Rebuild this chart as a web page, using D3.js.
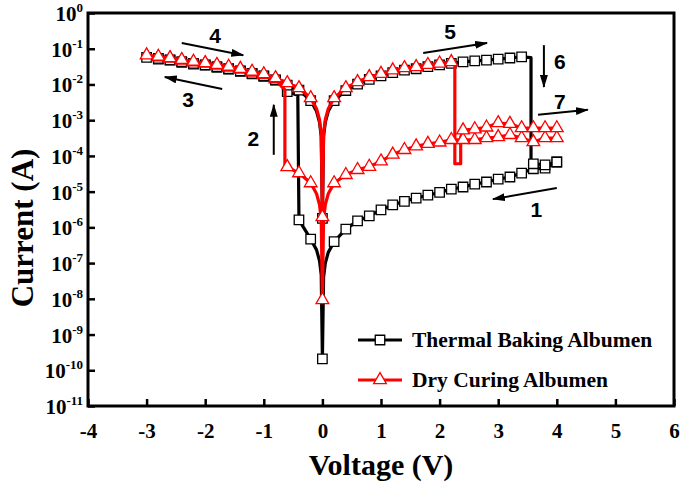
<!DOCTYPE html>
<html>
<head>
<meta charset="utf-8">
<script src="https://cdn.jsdelivr.net/npm/d3@7"></script>
<style>
  body { margin: 0; background: #fff; }
  text { font-family: "Liberation Serif", "Times New Roman", serif; font-weight: bold; fill: #000; }
  .num { font-family: "Liberation Sans", Arial, sans-serif; }
</style>
</head>
<body>
<svg id="chart" width="685" height="484"></svg>
<script>
const W = 685, H = 484;
const m = {left: 88, right: 11, top: 13, bottom: 78};

// values are [voltage V, log10 of current A], in the order of the sweep
// Thermal Baking Albumen
const tbSweep1 = [[4.0,-4.17],[3.8,-4.34],[3.6,-4.36],[3.4,-4.48],[3.2,-4.59],[3.0,-4.65],[2.8,-4.73],[2.6,-4.79],
  [2.4,-4.87],[2.2,-4.93],[2.0,-5.02],[1.8,-5.1],[1.6,-5.18],[1.4,-5.27],[1.2,-5.37],[1.0,-5.51],[0.8,-5.68],
  [0.6,-5.82],[0.4,-6.05],[0.2,-6.4],[0.1,-6.7],[0.05,-7.0],[0.02,-7.4],[0,-9.68]];
const tbSweep2 = [[-0.02,-7.33],[-0.05,-6.93],[-0.1,-6.63],[-0.2,-6.33],[-0.4,-5.79],[-0.42,-2.3],[-0.6,-2.2],
  [-0.8,-1.88],[-1.0,-1.77],[-1.2,-1.7],[-1.4,-1.63],[-1.6,-1.57],[-1.8,-1.52],[-2.0,-1.46],[-2.2,-1.43],
  [-2.4,-1.38],[-2.6,-1.32],[-2.8,-1.29],[-3.0,-1.24]];
const tbSweep3 = [[-2.8,-1.27],[-2.6,-1.31],[-2.4,-1.36],[-2.2,-1.41],[-2.0,-1.45],[-1.8,-1.5],[-1.6,-1.56],
  [-1.4,-1.62],[-1.2,-1.69],[-1.0,-1.76],[-0.8,-1.87],[-0.6,-2.02],[-0.4,-2.16],[-0.2,-2.45],[-0.1,-2.75],
  [-0.05,-3.05],[-0.02,-3.45],[0,-5.75]];
const tbSweep4 = [[0.02,-3.45],[0.05,-3.05],[0.1,-2.75],[0.2,-2.45],[0.4,-2.17],[0.6,-1.99],[0.8,-1.86],[1.0,-1.76],
  [1.2,-1.67],[1.4,-1.6],[1.6,-1.56],[1.8,-1.5],[2.0,-1.45],[2.2,-1.41],[2.4,-1.37],[2.6,-1.34],[2.8,-1.32],
  [3.0,-1.29],[3.2,-1.26],[3.4,-1.23],[3.56,-1.25],[3.56,-4.2],[3.6,-4.22],[3.8,-4.25],[4.0,-4.17]];

// Dry Curing Albumen
const dcSweep1 = [[4.0,-3.5],[3.8,-3.5],[3.6,-3.61],[3.4,-3.5],[3.2,-3.41],[3.0,-3.47],[2.8,-3.5],[2.6,-3.55],
  [2.4,-3.55],[2.2,-3.55],[2.0,-3.62],[1.8,-3.66],[1.6,-3.73],[1.4,-3.83],[1.2,-3.96],[1.0,-4.15],[0.8,-4.3],
  [0.6,-4.39],[0.4,-4.53],[0.2,-4.76],[0.1,-5.06],[0.05,-5.36],[0.02,-5.76],[0,-8.03]];
const dcSweep2 = [[-0.02,-5.76],[-0.05,-5.36],[-0.1,-5.06],[-0.2,-4.76],[-0.4,-4.48],[-0.6,-4.31],[-0.64,-4.31],
  [-0.64,-2.15],[-0.8,-1.85],[-1.0,-1.73],[-1.2,-1.66],[-1.4,-1.58],[-1.6,-1.52],[-1.8,-1.47],[-2.0,-1.41],
  [-2.2,-1.38],[-2.4,-1.33],[-2.6,-1.27],[-2.8,-1.24],[-3.0,-1.18]];
const dcSweep3 = [[-2.8,-1.22],[-2.6,-1.26],[-2.4,-1.31],[-2.2,-1.36],[-2.0,-1.4],[-1.8,-1.45],[-1.6,-1.5],
  [-1.4,-1.56],[-1.2,-1.64],[-1.0,-1.71],[-0.8,-1.82],[-0.6,-1.96],[-0.4,-2.1],[-0.2,-2.38],[-0.1,-2.68],
  [-0.05,-2.98],[-0.02,-3.38],[0,-5.71]];
const dcSweep4 = [[0.02,-3.38],[0.05,-2.98],[0.1,-2.68],[0.2,-2.38],[0.4,-2.1],[0.6,-1.93],[0.8,-1.79],[1.0,-1.7],
  [1.2,-1.6],[1.4,-1.54],[1.6,-1.51],[1.8,-1.45],[2.0,-1.41],[2.2,-1.37],[2.26,-1.37],[2.26,-4.22],[2.36,-4.22],
  [2.36,-3.47],[2.4,-3.28],[2.6,-3.25],[2.8,-3.2],[3.0,-3.08],[3.2,-3.1],[3.4,-3.22],[3.6,-3.22],[3.8,-3.22],[4.0,-3.22]];

const xTicks = [-4, -3, -2, -1, 0, 1, 2, 3, 4, 5, 6];
const yExps = [0, -1, -2, -3, -4, -5, -6, -7, -8, -9, -10, -11];

// sweep arrows: tail, head and label in [V, log10 I]
const arrows = [
  {n: "1", from: [4.0, -4.9],   to: [2.91, -5.21], at: [3.65, -5.51]},
  {n: "2", from: [-0.83, -3.97], to: [-0.83, -2.57], at: [-1.18, -3.5]},
  {n: "3", from: [-1.71, -2.13], to: [-2.69, -1.79], at: [-2.29, -2.43]},
  {n: "4", from: [-2.40, -0.84], to: [-1.35, -1.18], at: [-1.83, -0.62]},
  {n: "5", from: [1.72, -1.12],  to: [2.81, -0.84],  at: [2.18, -0.53]},
  {n: "6", from: [3.78, -0.9],   to: [3.78, -2.07],  at: [4.05, -1.37]},
  {n: "7", from: [3.68, -2.85],  to: [4.53, -2.71],  at: [4.05, -2.49]}
];

const series = [
  {name: "Thermal Baking Albumen", color: "#000", shape: "square",
   pts: tbSweep1.concat(tbSweep2, tbSweep3, tbSweep4)},
  {name: "Dry Curing Albumen", color: "#f00", shape: "triangle",
   pts: dcSweep1.concat(dcSweep2, dcSweep3, dcSweep4)}
];

const svg = d3.select("#chart");
const x = d3.scaleLinear().domain([-4, 6]).range([m.left, W - m.right]);
const y = d3.scaleLog().domain([1e-11, 1]).range([H - m.bottom, m.top]);
const yv = e => y(Math.pow(10, e));

svg.append("defs").append("marker")
  .attr("id", "ah").attr("viewBox", "0 0 13 8")
  .attr("refX", 12).attr("refY", 4)
  .attr("markerWidth", 13).attr("markerHeight", 8)
  .attr("markerUnits", "userSpaceOnUse").attr("orient", "auto")
  .append("path").attr("d", "M0,0L13,4L0,8z").attr("fill", "#000");

// axes, ticks pointing inward
const gx = svg.append("g").attr("transform", `translate(0,${H - m.bottom})`);
gx.call(d3.axisBottom(x).tickValues(d3.range(-3.5, 6, 1)).tickSize(-4).tickFormat(""));
gx.call(d3.axisBottom(x).tickValues(xTicks).tickSize(-7).tickPadding(17).tickFormat(d => String(d)));
gx.selectAll("text").attr("font-size", 21).attr("font-family", "Liberation Serif").attr("font-weight", "bold");

const minorY = [];
yExps.forEach(e => { if (e < 0) d3.range(2, 10).forEach(k => minorY.push(k * Math.pow(10, e))); });
const gy = svg.append("g").attr("transform", `translate(${m.left},0)`);
gy.call(d3.axisLeft(y).tickValues(minorY).tickSize(-4).tickFormat(""));
gy.call(d3.axisLeft(y).tickValues(yExps.map(e => Math.pow(10, e))).tickSize(-7).tickFormat(""));

svg.selectAll(".domain").remove();
svg.selectAll(".tick line").attr("stroke", "#000").attr("stroke-width", 2.5);

const ylab = svg.append("g").selectAll("text").data(yExps).enter().append("text")
  .attr("x", m.left - 5).attr("y", e => yv(e) + 8)
  .attr("text-anchor", "end").attr("font-size", 21);
ylab.append("tspan").text("10");
ylab.append("tspan").attr("dy", -9).attr("font-size", 13).text(e => String(e));

svg.append("rect")
  .attr("x", m.left).attr("y", m.top)
  .attr("width", W - m.left - m.right).attr("height", H - m.top - m.bottom)
  .attr("fill", "none").attr("stroke", "#000").attr("stroke-width", 3);

// axis titles
svg.append("text").attr("x", (m.left + W - m.right) / 2).attr("y", 475)
  .attr("text-anchor", "middle").attr("font-size", 30).text("Voltage (V)");
svg.append("text").attr("transform", "translate(33,228) rotate(-90)")
  .attr("text-anchor", "middle").attr("font-size", 31).text("Current (A)");

// data
const line = d3.line().x(d => x(d[0])).y(d => yv(d[1]));
const isMark = d => Math.abs(d[0] * 5 - Math.round(d[0] * 5)) < 1e-6;
const sym = {square: d3.symbol(d3.symbolSquare, 90)(), triangle: d3.symbol(d3.symbolTriangle, 70)()};

series.forEach(s => {
  svg.append("path").datum(s.pts).attr("d", line)
    .attr("fill", "none").attr("stroke", s.color).attr("stroke-width", 3.2)
    .attr("stroke-linejoin", "round");
  svg.append("g").selectAll("path").data(s.pts.filter(isMark)).enter().append("path")
    .attr("d", sym[s.shape])
    .attr("transform", d => `translate(${x(d[0])},${yv(d[1])})`)
    .attr("fill", "#fff").attr("stroke", s.color).attr("stroke-width", 1.3);
});

// arrows and sweep numbers
const ga = svg.append("g");
ga.selectAll("line").data(arrows).enter().append("line")
  .attr("x1", d => x(d.from[0])).attr("y1", d => yv(d.from[1]))
  .attr("x2", d => x(d.to[0])).attr("y2", d => yv(d.to[1]))
  .attr("stroke", "#000").attr("stroke-width", 2).attr("marker-end", "url(#ah)");
ga.selectAll("text").data(arrows).enter().append("text")
  .attr("class", "num").attr("x", d => x(d.at[0])).attr("y", d => yv(d.at[1]))
  .attr("text-anchor", "middle").attr("dominant-baseline", "central")
  .attr("font-size", 21).text(d => d.n);

// legend
const lg = svg.append("g").selectAll("g").data(series).enter().append("g")
  .attr("transform", (d, i) => `translate(358,${340 + i * 40})`);
lg.append("line").attr("x1", 0).attr("x2", 44)
  .attr("stroke", d => d.color).attr("stroke-width", 3.2);
lg.append("path").attr("d", d => sym[d.shape]).attr("transform", "translate(22,0)")
  .attr("fill", "#fff").attr("stroke", d => d.color).attr("stroke-width", 1.3);
lg.append("text").attr("x", 54).attr("y", 7).attr("font-size", 21.5).text(d => d.name);
</script>
</body>
</html>
